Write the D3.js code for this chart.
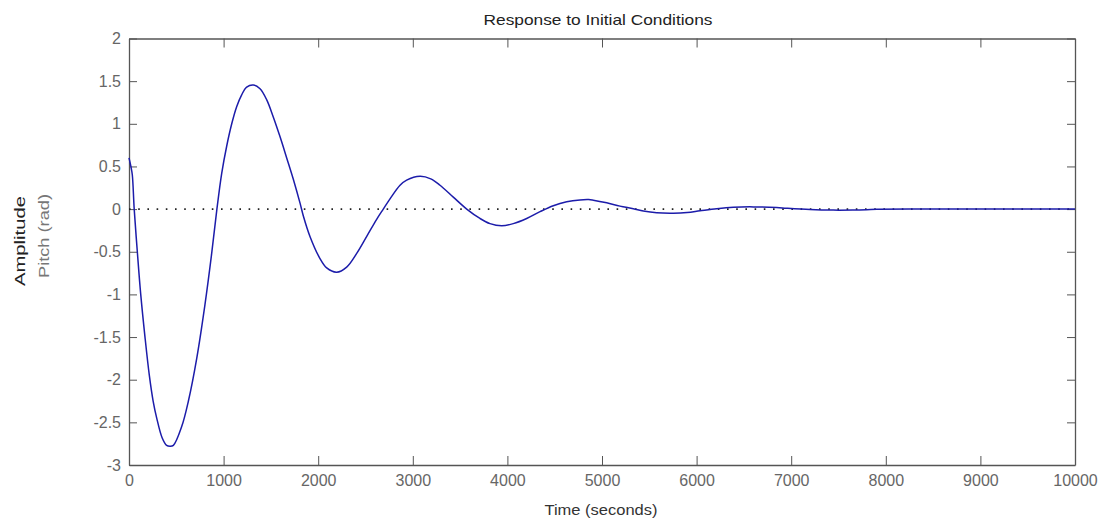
<!DOCTYPE html>
<html>
<head>
<meta charset="utf-8">
<script src="https://cdn.jsdelivr.net/npm/d3@7"></script>
<style>
  body { margin: 0; background: #fff; }
  svg { display: block; font-family: "Liberation Sans", Arial, sans-serif; }
  .axis path, .axis line { stroke: #555; }
  .axis text { fill: #666; font-size: 16px; font-family: "Liberation Sans", Arial, sans-serif; }
</style>
</head>
<body>
<svg id="chart"></svg>
<script>

// time (s) and pitch (rad)
var time = [0, 20, 35, 55, 88, 124, 169, 215, 255, 293, 350, 398, 433, 469, 557, 628, 716, 803, 874, 927, 980,
  1033, 1086, 1138, 1191, 1244, 1314, 1385, 1456, 1525, 1596, 1667, 1737, 1808, 1843, 1913, 2019, 2090, 2195,
  2301, 2407, 2513, 2618, 2688, 2759, 2865, 2935, 3076, 3190, 3288, 3428, 3570, 3710, 3816, 3940, 4062, 4204,
  4345, 4485, 4627, 4767, 4860, 4908, 5050, 5190, 5331, 5437, 5578, 5754, 5900, 6036, 6212, 6388, 6600, 6846,
  6952, 7199, 7445, 7650, 7798, 7903, 8500, 10000];
var pitch = [0.6, 0.5, 0.4, 0.0, -0.5, -1.0, -1.5, -1.95, -2.25, -2.45, -2.68, -2.77, -2.78, -2.77, -2.55, -2.25, -1.75, -1.12, -0.52, -0.02, 0.42,
  0.74, 1.0, 1.2, 1.34, 1.43, 1.455, 1.41, 1.28, 1.08, 0.85, 0.6, 0.35, 0.07, -0.08, -0.32, -0.58, -0.69, -0.74,
  -0.68, -0.52, -0.32, -0.12, 0.0, 0.12, 0.28, 0.34, 0.385, 0.355, 0.28, 0.14, 0.0, -0.11, -0.17, -0.195, -0.17, -0.11,
  -0.03, 0.04, 0.086, 0.108, 0.112, 0.105, 0.074, 0.035, 0.005, -0.022, -0.043, -0.048, -0.04, -0.02, 0.005, 0.022, 0.026, 0.018,
  0.01, -0.005, -0.012, -0.011, -0.007, -0.002, 0, 0];

var xTicks = [0, 1000, 2000, 3000, 4000, 5000, 6000, 7000, 8000, 9000, 10000];
var yTicks = [-3, -2.5, -2, -1.5, -1, -0.5, 0, 0.5, 1, 1.5, 2];
var yTickLabels = ["-3", "-2.5", "-2", "-1.5", "-1", "-0.5", "0", "0.5", "1", "1.5", "2"];

var margin = {top: 38.5, right: 29, bottom: 58, left: 129},
    W = 1104, H = 523,
    width = W - margin.left - margin.right,
    height = H - margin.top - margin.bottom;

var svg = d3.select("#chart")
    .attr("width", W)
    .attr("height", H);

var g = svg.append("g")
    .attr("transform", "translate(" + margin.left + "," + margin.top + ")");

var x = d3.scaleLinear().domain([0, 10000]).range([0, width]);
var y = d3.scaleLinear().domain([-3, 2]).range([height, 0]);

// box with inward ticks on all four sides
g.append("g").attr("class", "axis")
    .attr("transform", "translate(0," + height + ")")
    .call(d3.axisBottom(x).tickValues(xTicks).tickFormat(d3.format("d"))
      .tickSizeInner(-9).tickSizeOuter(0).tickPadding(10));

g.append("g").attr("class", "axis")
    .call(d3.axisTop(x).tickValues(xTicks).tickFormat("")
      .tickSizeInner(-9).tickSizeOuter(0));

g.append("g").attr("class", "axis")
    .call(d3.axisLeft(y).tickValues(yTicks).tickFormat(function(d, i) { return yTickLabels[i]; })
      .tickSizeInner(-8).tickSizeOuter(0).tickPadding(8));

g.append("g").attr("class", "axis")
    .attr("transform", "translate(" + width + ",0)")
    .call(d3.axisRight(y).tickValues(yTicks).tickFormat("")
      .tickSizeInner(-8).tickSizeOuter(0));

g.selectAll(".axis .domain").attr("stroke-width", 1.3);

// dotted zero line
g.append("line")
    .attr("x1", x(0)).attr("x2", x(10000))
    .attr("y1", y(0)).attr("y2", y(0))
    .attr("stroke", "#222")
    .attr("stroke-width", 1.6)
    .attr("stroke-dasharray", "1.6,7.6");

var pts = time.map(function(t, i) { return [t, pitch[i]]; });

var line = d3.line()
    .x(function(d) { return x(d[0]); })
    .y(function(d) { return y(d[1]); })
    .curve(d3.curveCatmullRom.alpha(0.5));

g.append("path")
    .datum(pts)
    .attr("fill", "none")
    .attr("stroke", "#1c1caa")
    .attr("stroke-width", 1.5)
    .attr("d", line);

// texts
svg.append("text")
    .attr("x", 598).attr("y", 25)
    .attr("text-anchor", "middle")
    .attr("textLength", 229).attr("lengthAdjust", "spacingAndGlyphs")
    .style("font-size", "15px").style("fill", "#222")
    .text("Response to Initial Conditions");

svg.append("text")
    .attr("x", 601).attr("y", 515)
    .attr("text-anchor", "middle")
    .attr("textLength", 113).attr("lengthAdjust", "spacingAndGlyphs")
    .style("font-size", "14px").style("fill", "#333")
    .text("Time (seconds)");

svg.append("text")
    .attr("transform", "translate(25,241) rotate(-90)")
    .attr("text-anchor", "middle")
    .attr("textLength", 90).attr("lengthAdjust", "spacingAndGlyphs")
    .style("font-size", "14px").style("fill", "#222")
    .text("Amplitude");

svg.append("text")
    .attr("transform", "translate(49,236) rotate(-90)")
    .attr("text-anchor", "middle")
    .attr("textLength", 84).attr("lengthAdjust", "spacingAndGlyphs")
    .style("font-size", "14px").style("fill", "#777")
    .text("Pitch (rad)");

</script>
</body>
</html>
